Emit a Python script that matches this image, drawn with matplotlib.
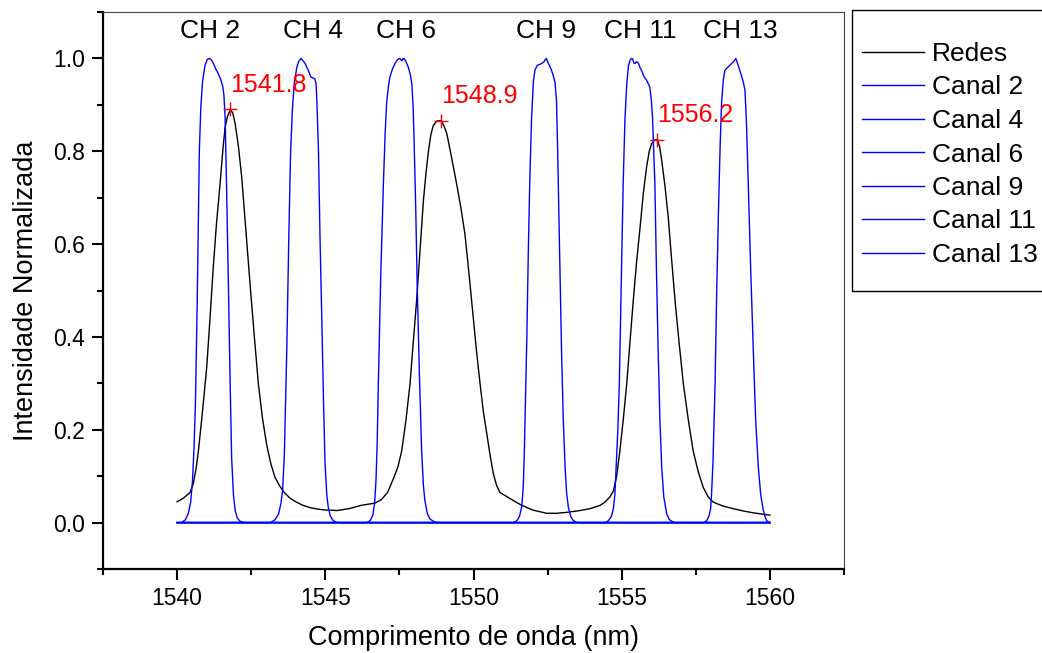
import matplotlib.pyplot as plt
from matplotlib.patches import Rectangle
from matplotlib.ticker import MultipleLocator

plt.rcParams['font.family'] = ['Liberation Sans', 'DejaVu Sans']

# ---- Spectrum of the gratings (Redes)
redes_nm = [1540.0, 1540.2, 1540.44, 1540.55, 1540.65, 1540.72, 1540.85, 1541.0,
            1541.1, 1541.22, 1541.33, 1541.45, 1541.54, 1541.62, 1541.7, 1541.8,
            1541.88, 1541.96, 1542.07, 1542.18, 1542.32, 1542.46, 1542.6, 1542.74,
            1542.88, 1543.03, 1543.17, 1543.3, 1543.45, 1543.6, 1543.8, 1544.0,
            1544.25, 1544.5, 1544.75, 1545.0, 1545.4, 1545.8, 1546.2, 1546.68,
            1546.9, 1547.1, 1547.3, 1547.45, 1547.58, 1547.72, 1547.86, 1547.97,
            1548.08, 1548.2, 1548.31, 1548.4, 1548.48, 1548.56, 1548.64, 1548.76,
            1548.9, 1549.0, 1549.1, 1549.25, 1549.43, 1549.57, 1549.71, 1549.85,
            1549.99, 1550.1, 1550.22, 1550.33, 1550.45, 1550.56, 1550.67, 1550.78,
            1550.89, 1551.2, 1551.6, 1552.0, 1552.47, 1552.8, 1553.14, 1553.6,
            1553.93, 1554.27, 1554.43, 1554.6, 1554.72, 1554.83, 1554.94, 1555.05,
            1555.17, 1555.28, 1555.39, 1555.5, 1555.62, 1555.73, 1555.84, 1555.93,
            1556.01, 1556.1, 1556.2, 1556.28, 1556.35, 1556.46, 1556.57, 1556.68,
            1556.8, 1556.94, 1557.08, 1557.25, 1557.41, 1557.58, 1557.75, 1557.92,
            1558.09, 1558.4, 1558.76, 1559.1, 1559.44, 1559.89, 1560.0]
redes_int = [0.045, 0.052, 0.065, 0.085, 0.12, 0.155, 0.235, 0.335,
             0.43, 0.55, 0.645, 0.73, 0.80, 0.852, 0.875, 0.89,
             0.882, 0.859, 0.81, 0.744, 0.63, 0.515, 0.405, 0.30,
             0.225, 0.165, 0.125, 0.098, 0.08, 0.066, 0.053, 0.045,
             0.037, 0.032, 0.029, 0.027, 0.026, 0.030, 0.037, 0.042,
             0.05, 0.065, 0.095, 0.12, 0.155, 0.22, 0.30, 0.39,
             0.478, 0.59, 0.694, 0.755, 0.80, 0.835, 0.855, 0.865,
             0.866, 0.855, 0.838, 0.79, 0.73, 0.68, 0.622, 0.535,
             0.443, 0.37, 0.30, 0.24, 0.191, 0.145, 0.105, 0.08,
             0.065, 0.053, 0.038, 0.027, 0.02, 0.02, 0.022, 0.026,
             0.03, 0.037, 0.044, 0.055, 0.068, 0.10, 0.155, 0.22,
             0.299, 0.39, 0.478, 0.56, 0.636, 0.71, 0.766, 0.80,
             0.816, 0.824, 0.825, 0.81, 0.78, 0.725, 0.658, 0.57,
             0.478, 0.385, 0.299, 0.22, 0.155, 0.11, 0.076, 0.055,
             0.044, 0.036, 0.03, 0.025, 0.021, 0.017, 0.016]

# ---- Filter channels (Canal 2, 4, 6, 9, 11, 13)
ch2_nm = [1540.0, 1540.15, 1540.28, 1540.38, 1540.46, 1540.52, 1540.57, 1540.62,
          1540.68, 1540.75, 1540.8, 1540.86, 1540.94, 1541.02, 1541.09, 1541.15,
          1541.22, 1541.3, 1541.39, 1541.47, 1541.54, 1541.58, 1541.62, 1541.67,
          1541.73, 1541.79, 1541.84, 1541.9, 1541.96, 1542.03, 1542.12, 1542.25,
          1560.0]
ch2_int = [0.0, 0.0, 0.006, 0.02, 0.045, 0.09, 0.16, 0.26,
           0.48, 0.80, 0.895, 0.95, 0.985, 0.998, 1.0, 0.997,
           0.99, 0.978, 0.967, 0.955, 0.94, 0.92, 0.873, 0.72,
           0.515, 0.30, 0.14, 0.06, 0.026, 0.01, 0.003, 0.0,
           0.0]

ch4_nm = [1540.0, 1543.15, 1543.3, 1543.42, 1543.5, 1543.56, 1543.62, 1543.7,
          1543.77, 1543.83, 1543.89, 1543.95, 1544.04, 1544.1, 1544.18, 1544.25,
          1544.32, 1544.38, 1544.43, 1544.51, 1544.65, 1544.69, 1544.72, 1544.77,
          1544.82, 1544.88, 1544.94, 1544.99, 1545.05, 1545.1, 1545.17, 1545.27,
          1545.4, 1560.0]
ch4_int = [0.0, 0.0, 0.006, 0.018, 0.04, 0.07, 0.15, 0.371,
           0.62, 0.80, 0.89, 0.945, 0.981, 0.993, 1.0, 0.995,
           0.989, 0.98, 0.974, 0.96, 0.956, 0.945, 0.90, 0.80,
           0.62, 0.443, 0.26, 0.13, 0.06, 0.033, 0.014, 0.004,
           0.0, 0.0]

ch6_nm = [1540.0, 1546.4, 1546.51, 1546.6, 1546.66, 1546.71, 1546.75, 1546.79,
          1546.87, 1546.96, 1547.02, 1547.07, 1547.13, 1547.18, 1547.27, 1547.35,
          1547.43, 1547.5, 1547.54, 1547.58, 1547.62, 1547.66, 1547.73, 1547.8,
          1547.87, 1547.92, 1547.96, 1547.99, 1548.05, 1548.1, 1548.17, 1548.25,
          1548.31, 1548.36, 1548.44, 1548.53, 1548.64, 1548.75, 1560.0]
ch6_int = [0.0, 0.0, 0.004, 0.015, 0.04, 0.09, 0.17, 0.299,
           0.53, 0.73, 0.84, 0.905, 0.94, 0.96, 0.978, 0.989,
           0.997, 1.0, 0.998, 0.995, 0.999, 1.0, 0.992, 0.981,
           0.965, 0.945, 0.90, 0.838, 0.68, 0.514, 0.33, 0.155,
           0.08, 0.047, 0.02, 0.008, 0.003, 0.0, 0.0]

ch9_nm = [1540.0, 1551.35, 1551.46, 1551.55, 1551.63, 1551.68, 1551.71, 1551.74,
          1551.8, 1551.85, 1551.9, 1551.96, 1552.02, 1552.07, 1552.15, 1552.3,
          1552.38, 1552.45, 1552.5, 1552.56, 1552.63, 1552.69, 1552.75, 1552.8,
          1552.84, 1552.9, 1552.97, 1553.03, 1553.09, 1553.14, 1553.2, 1553.28,
          1553.37, 1553.5, 1560.0]
ch9_int = [0.0, 0.0, 0.004, 0.013, 0.035, 0.08, 0.14, 0.227,
           0.40, 0.586, 0.74, 0.873, 0.95, 0.974, 0.985, 0.989,
           0.993, 1.0, 0.993, 0.985, 0.975, 0.963, 0.948, 0.91,
           0.80, 0.60, 0.371, 0.22, 0.119, 0.065, 0.033, 0.013,
           0.004, 0.0, 0.0]

ch11_nm = [1540.0, 1554.45, 1554.55, 1554.65, 1554.72, 1554.77, 1554.82, 1554.87,
           1554.92, 1554.98, 1555.05, 1555.11, 1555.17, 1555.23, 1555.28, 1555.33,
           1555.37, 1555.41, 1555.45, 1555.5, 1555.56, 1555.62, 1555.67, 1555.76,
           1555.84, 1555.9, 1555.95, 1556.0, 1556.04, 1556.08, 1556.12, 1556.17,
           1556.23, 1556.29, 1556.35, 1556.42, 1556.52, 1556.6, 1556.68, 1556.8,
           1560.0]
ch11_int = [0.0, 0.0, 0.004, 0.013, 0.03, 0.06, 0.13, 0.2,
            0.299, 0.50, 0.73, 0.87, 0.945, 0.985, 0.996, 1.0,
            0.999, 0.99, 0.989, 0.993, 0.99, 0.98, 0.974, 0.96,
            0.953, 0.945, 0.938, 0.91, 0.873, 0.80, 0.73, 0.55,
            0.371, 0.22, 0.119, 0.055, 0.019, 0.007, 0.003, 0.0,
            0.0]

ch13_nm = [1540.0, 1557.77, 1557.87, 1557.95, 1558.0, 1558.03, 1558.08, 1558.15,
           1558.2, 1558.26, 1558.32, 1558.37, 1558.43, 1558.48, 1558.56, 1558.65,
           1558.72, 1558.78, 1558.85, 1558.89, 1558.93, 1558.98, 1559.04, 1559.1,
           1559.16, 1559.21, 1559.27, 1559.35, 1559.44, 1559.52, 1559.61, 1559.69,
           1559.78, 1559.85, 1559.89, 1560.0]
ch13_int = [0.0, 0.0, 0.004, 0.015, 0.03, 0.06, 0.13, 0.299,
            0.48, 0.658, 0.81, 0.905, 0.955, 0.974, 0.98, 0.985,
            0.99, 0.993, 1.0, 0.993, 0.985, 0.975, 0.963, 0.95,
            0.931, 0.86, 0.73, 0.55, 0.371, 0.22, 0.119, 0.06,
            0.026, 0.01, 0.004, 0.0]

channels = [
    ('Canal 2', ch2_nm, ch2_int),
    ('Canal 4', ch4_nm, ch4_int),
    ('Canal 6', ch6_nm, ch6_int),
    ('Canal 9', ch9_nm, ch9_int),
    ('Canal 11', ch11_nm, ch11_int),
    ('Canal 13', ch13_nm, ch13_int),
]

# Channel names written above each passband
ch_labels = ['CH 2', 'CH 4', 'CH 6', 'CH 9', 'CH 11', 'CH 13']
ch_label_nm = [1541.11, 1544.59, 1547.72, 1552.45, 1555.62, 1558.99]

# Grating peaks
peak_nm = [1541.8, 1548.9, 1556.2]
peak_int = [0.89, 0.866, 0.825]

fig = plt.figure(figsize=(10.42, 6.53), dpi=100)
ax = fig.add_axes([103 / 1042, 1 - 569 / 653, 741 / 1042, 557 / 653])

ax.plot(redes_nm, redes_int, color='black', lw=1.0, label='Redes')
for name, nm, inten in channels:
    ax.plot(nm, inten, color='blue', lw=1.0, label=name)

# Peak markers and their wavelength
ax.plot(peak_nm, peak_int, ls='none', marker='+', ms=10, mew=1.0, color='red')
for x, y in zip(peak_nm, peak_int):
    ax.text(x, y + 0.037, f'{x:.1f}', color='red', fontsize=18,
            ha='left', va='baseline')

for lab, x in zip(ch_labels, ch_label_nm):
    ax.text(x, 1.06, lab, fontsize=19, ha='center', va='center')

# Axis configuration
ax.set_xlim(1537.5, 1562.5)
ax.set_ylim(-0.1, 1.1)
ax.xaxis.set_major_locator(MultipleLocator(5))
ax.xaxis.set_minor_locator(MultipleLocator(2.5))
ax.yaxis.set_major_locator(MultipleLocator(0.2))
ax.yaxis.set_minor_locator(MultipleLocator(0.1))
ax.yaxis.set_major_formatter(plt.FuncFormatter(lambda v, p: f'{v:.1f}'))
ax.tick_params(which='both', direction='out', width=1.5, labelsize=16.5,
               top=False, right=False)
ax.tick_params(which='major', length=8, pad=5)
ax.tick_params(which='minor', length=4)

for side in ['left', 'bottom']:
    ax.spines[side].set_linewidth(1.6)
    ax.spines[side].set_color('black')
for side in ['top', 'right']:
    ax.spines[side].set_linewidth(0.8)
    ax.spines[side].set_color('#444444')

ax.set_xlabel('Comprimento de onda (nm)', fontsize=19.5, labelpad=11)
ax.set_ylabel('Intensidade Normalizada', fontsize=19.5, labelpad=10)

# Legend box placed to the right of the plot
fig.patches.append(Rectangle((852 / 1042, 1 - 291 / 653), 200 / 1042, 281 / 653,
                             transform=fig.transFigure, fill=False,
                             edgecolor='black', lw=1.0))
handles, labels = ax.get_legend_handles_labels()
fig.legend(handles[:7], labels[:7], loc='upper left',
           bbox_to_anchor=(862 / 1042, 1 - 42 / 653), frameon=False,
           fontsize=19, handlelength=2.35, handletextpad=0.3,
           labelspacing=0.36, borderpad=0, borderaxespad=0)

plt.savefig('out.png', dpi=100)
